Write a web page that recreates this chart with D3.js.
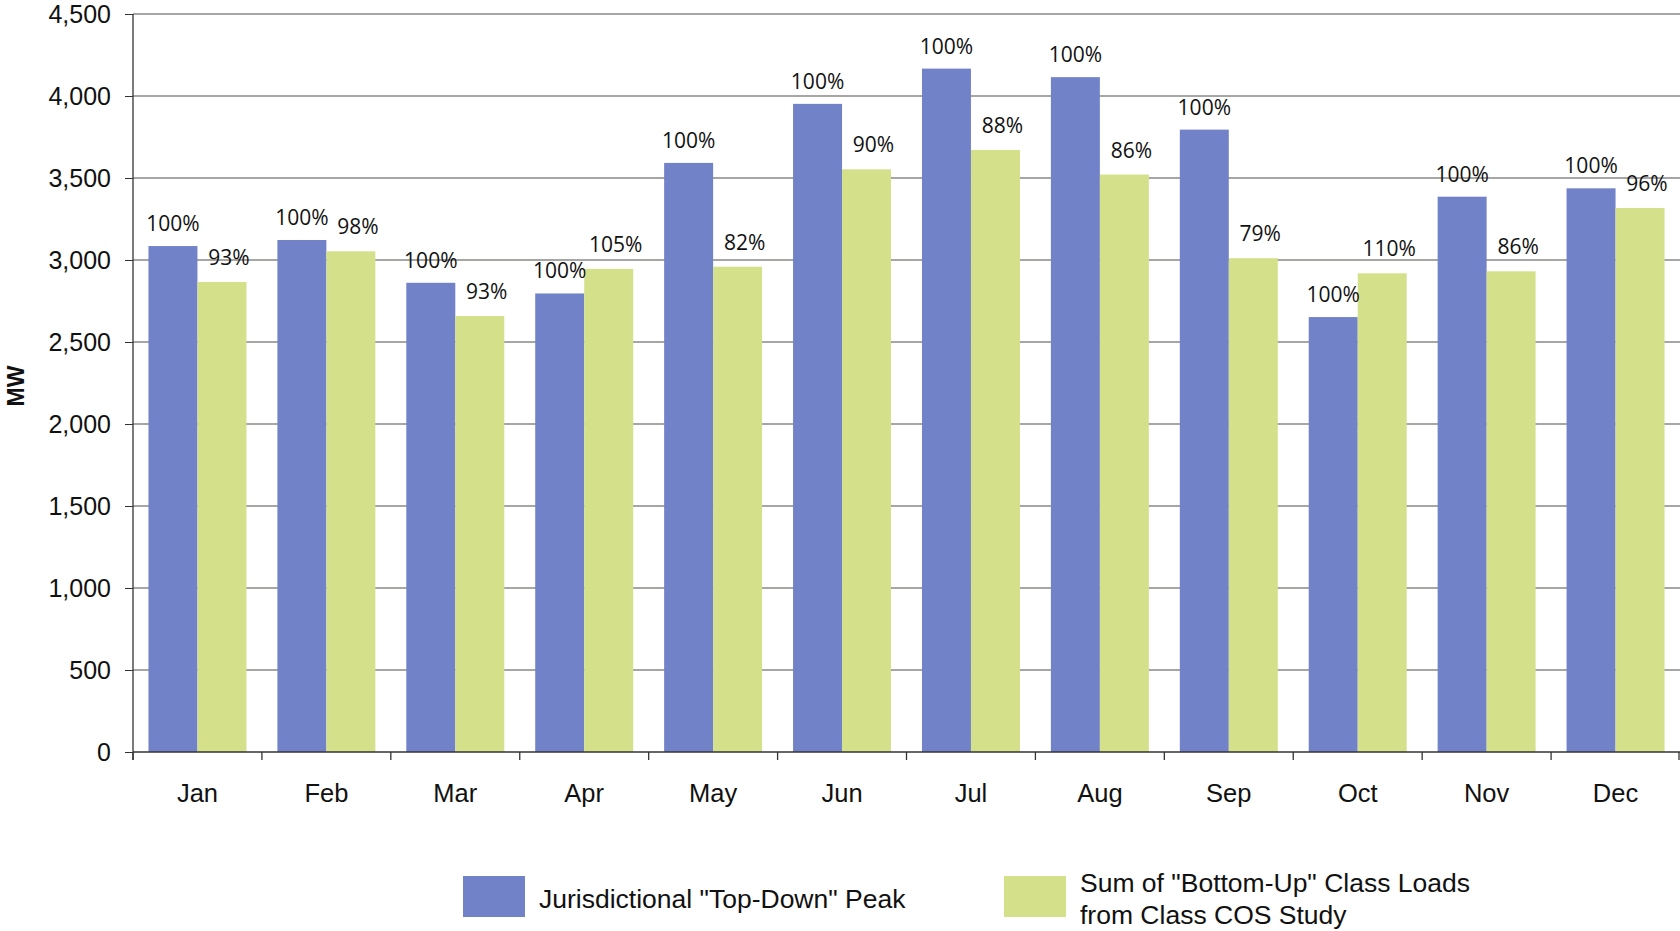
<!DOCTYPE html>
<html>
<head>
<meta charset="utf-8">
<script src="https://cdnjs.cloudflare.com/ajax/libs/d3/7.8.5/d3.min.js"></script>
<style>
  body { margin: 0; background: #fff; }
  #chart { width: 1680px; height: 931px; }
</style>
</head>
<body>
<div id="chart"></div>
<script>
// monthly peaks (MW)
var months = ["Jan", "Feb", "Mar", "Apr", "May", "Jun", "Jul", "Aug", "Sep", "Oct", "Nov", "Dec"];
var topDown = [3085, 3122, 2861, 2796, 3592, 3952, 4167, 4115, 3795, 2652, 3386, 3437];
var bottomUp = [2866, 3053, 2658, 2946, 2959, 3553, 3671, 3521, 3011, 2919, 2931, 3317];
var topDownPct = ["100%", "100%", "100%", "100%", "100%", "100%", "100%", "100%", "100%", "100%", "100%", "100%"];
var bottomUpPct = ["93%", "98%", "93%", "105%", "82%", "90%", "88%", "86%", "79%", "110%", "86%", "96%"];
var yTicks = [0, 500, 1000, 1500, 2000, 2500, 3000, 3500, 4000, 4500];
var seriesNames = ["Jurisdictional \"Top-Down\" Peak", "Sum of \"Bottom-Up\" Class Loads|from Class COS Study"];
var colors = ["#7282c9", "#d5e08b"];

var W = 1680, H = 931;
// plot box (window.top is read-only, so no plain "top" here)
var plotL = 133, plotR = 1680, plotT = 14, plotB = 752;
var axisFont = "'Liberation Sans', Arial, sans-serif";
var labelFont = "'Open Sans', 'Noto Sans', sans-serif";

var svg = d3.select("#chart").append("svg")
  .attr("width", W)
  .attr("height", H);

var x = d3.scaleBand()
  .domain(months)
  .range([plotL, plotR])
  .paddingInner(0.24)
  .paddingOuter(0.12);

var xSub = d3.scaleBand()
  .domain([0, 1])
  .range([0, x.bandwidth()]);

var y = d3.scaleLinear()
  .domain([0, 4500])
  .range([plotB, plotT]);

// gridlines
svg.append("g")
  .selectAll("line")
  .data(yTicks.filter(function(d) { return d > 0; }))
  .enter().append("line")
  .attr("x1", plotL)
  .attr("x2", plotR)
  .attr("y1", function(d) { return y(d); })
  .attr("y2", function(d) { return y(d); })
  .style("stroke", "#4f4f4a")
  .style("stroke-width", 1.2);

// bars
var rows = months.map(function(m, i) {
  return { month: m, vals: [topDown[i], bottomUp[i]], pcts: [topDownPct[i], bottomUpPct[i]] };
});

var group = svg.append("g")
  .selectAll(".month")
  .data(rows)
  .enter().append("g")
  .attr("class", "month")
  .attr("transform", function(d) { return "translate(" + x(d.month) + ",0)"; });

group.selectAll("rect")
  .data(function(d) { return d.vals.map(function(v, k) { return { k: k, v: v }; }); })
  .enter().append("rect")
  .attr("x", function(d) { return xSub(d.k); })
  .attr("y", function(d) { return y(d.v); })
  .attr("width", xSub.bandwidth())
  .attr("height", function(d) { return plotB - y(d.v); })
  .style("fill", function(d) { return colors[d.k]; });

// percentage labels
group.selectAll("text")
  .data(function(d) { return d.vals.map(function(v, k) { return { k: k, v: v, p: d.pcts[k] }; }); })
  .enter().append("text")
  .attr("x", function(d) { return xSub(d.k) + xSub.bandwidth() / 2 + (d.k === 1 ? 7 : 0); })
  .attr("y", function(d) { return y(d.v) - (d.k === 1 ? 17 : 15); })
  .attr("text-anchor", "middle")
  .style("font-family", labelFont)
  .style("font-size", "21px")
  .style("fill", "#111")
  .text(function(d) { return d.p; });

// y axis
var yAxis = svg.append("g")
  .attr("transform", "translate(" + plotL + ",0)")
  .call(d3.axisLeft(y).tickValues(yTicks).tickSize(8).tickPadding(14).tickFormat(d3.format(",")));
yAxis.select(".domain").remove();
yAxis.selectAll(".tick line").style("stroke", "#333");
yAxis.selectAll("text")
  .style("font-family", axisFont)
  .style("font-size", "25px")
  .style("fill", "#111");

svg.append("line")
  .attr("x1", plotL).attr("x2", plotL)
  .attr("y1", plotT).attr("y2", plotB + 8)
  .style("stroke", "#333")
  .style("stroke-width", 1.3);

// x axis
var xAxis = svg.append("g")
  .attr("transform", "translate(0," + plotB + ")")
  .call(d3.axisBottom(x).tickSize(0).tickPadding(32));
xAxis.select(".domain").remove();
xAxis.selectAll("text")
  .style("font-family", axisFont)
  .style("font-size", "25.5px")
  .style("fill", "#111");

svg.append("line")
  .attr("x1", plotL).attr("x2", plotR)
  .attr("y1", plotB).attr("y2", plotB)
  .style("stroke", "#333")
  .style("stroke-width", 1.3);

// tick marks between months
var bounds = months.map(function(m) { return x(m) - x.paddingOuter() * x.step(); }).concat([plotR - 1]);
svg.append("g")
  .selectAll("line")
  .data(bounds)
  .enter().append("line")
  .attr("x1", function(d) { return d; })
  .attr("x2", function(d) { return d; })
  .attr("y1", plotB)
  .attr("y2", plotB + 8)
  .style("stroke", "#333")
  .style("stroke-width", 1.3);

// y title
svg.append("text")
  .attr("transform", "translate(24,386) rotate(-90)")
  .attr("text-anchor", "middle")
  .style("font-family", axisFont)
  .style("font-weight", "bold")
  .style("font-size", "23px")
  .style("fill", "#111")
  .text("MW");

// legend
var legendX = [463, 1004];
var legend = svg.append("g")
  .selectAll(".legend")
  .data(seriesNames)
  .enter().append("g")
  .attr("class", "legend")
  .attr("transform", function(d, i) { return "translate(" + legendX[i] + ",876)"; });

legend.append("rect")
  .attr("width", 62)
  .attr("height", 41)
  .style("fill", function(d, i) { return colors[i]; });

legend.each(function(d) {
  var lines = d.split("|");
  var t = d3.select(this).append("text")
    .style("font-family", axisFont)
    .style("font-size", "26.5px")
    .style("fill", "#111");
  lines.forEach(function(line, j) {
    t.append("tspan")
      .attr("x", 76)
      .attr("y", lines.length === 1 ? 32 : 16 + j * 32)
      .text(line);
  });
});
</script>
</body>
</html>
